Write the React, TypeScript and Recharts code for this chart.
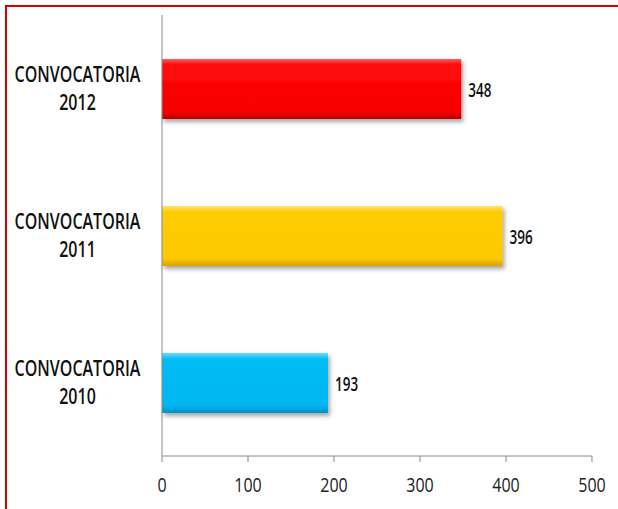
import { Bar, BarChart, Cell, LabelList, XAxis, YAxis } from "recharts";

const years = ["2012", "2011", "2010"];
const values = [348, 396, 193];
const xTicks = [0, 100, 200, 300, 400, 500];

const data = years.map((year, i) => ({ name: "CONVOCATORIA " + year, year, value: values[i] }));

const barFills = ["url(#gRed)", "url(#gYellow)", "url(#gBlue)"];
const font = "'Open Sans', sans-serif";

// the source picture is stretched vertically, so the text is scaled in y
function CategoryTick(props: any) {
  const { y, payload } = props;
  const year = payload.value.split(" ")[1];
  const lines = ["CONVOCATORIA", year];
  return (
    <g>
      {lines.map((t, i) => (
        <g key={i} transform={`translate(77.5,${y + (i === 0 ? -13.8 : 13.8)}) scale(1,1.3)`}>
          <text x={0} y={0} dy="0.36em" textAnchor="middle" fontFamily={font} fontWeight={600} fontSize={16} fill="#111">
            {t}
          </text>
        </g>
      ))}
    </g>
  );
}

function NumberTick(props: any) {
  const { x, payload } = props;
  return (
    <g transform={`translate(${x},484.5) scale(1,1.27)`}>
      <text x={0} y={0} dy="0.36em" textAnchor="middle" fontFamily={font} fontSize={16} fill="#222">
        {payload.value}
      </text>
    </g>
  );
}

function ValueLabel(props: any) {
  const { x, y, width, height, value } = props;
  return (
    <g transform={`translate(${x + width + 7},${y + height / 2 + 1.5}) scale(1,1.42)`}>
      <text x={0} y={0} dy="0.36em" textAnchor="start" fontFamily={font} fontWeight={600} fontSize={13.5} fill="#111">
        {value}
      </text>
    </g>
  );
}

export default function App() {
  return (
    <div style={{ position: "fixed", left: 0, top: 0, width: 618, height: 509, overflow: "hidden", background: "#fff" }}>
      <div
        style={{
          position: "absolute",
          left: 5,
          top: 5,
          width: 800,
          height: 800,
          border: "2px solid #d60000",
        }}
      />
      <div style={{ position: "absolute", left: 0, top: 0 }}>
        <BarChart
          width={618}
          height={509}
          data={data}
          layout="vertical"
          margin={{ top: 15, right: 26, bottom: 0, left: 0 }}
        >
          <defs>
            <linearGradient id="gRed" x1="0" y1="0" x2="0" y2="1">
              <stop offset="0%" stopColor="#ff5a5a" />
              <stop offset="10%" stopColor="#ff0a0a" />
              <stop offset="88%" stopColor="#f80000" />
              <stop offset="100%" stopColor="#b80000" />
            </linearGradient>
            <linearGradient id="gYellow" x1="0" y1="0" x2="0" y2="1">
              <stop offset="0%" stopColor="#ffe26a" />
              <stop offset="10%" stopColor="#ffcc05" />
              <stop offset="88%" stopColor="#fcc800" />
              <stop offset="100%" stopColor="#d9a200" />
            </linearGradient>
            <linearGradient id="gBlue" x1="0" y1="0" x2="0" y2="1">
              <stop offset="0%" stopColor="#6cd8ff" />
              <stop offset="10%" stopColor="#06bcf5" />
              <stop offset="88%" stopColor="#00b6f0" />
              <stop offset="100%" stopColor="#008fc4" />
            </linearGradient>
            <filter id="shadow" x="-5%" y="-20%" width="115%" height="150%">
              <feDropShadow dx="2" dy="3" stdDeviation="2" floodColor="#000" floodOpacity="0.35" />
            </filter>
          </defs>
          <XAxis
            type="number"
            domain={[0, 500]}
            ticks={xTicks}
            height={53}
            axisLine={{ stroke: "#8a8a8a" }}
            tickLine={{ stroke: "#8a8a8a" }}
            tickSize={6}
            tick={<NumberTick />}
          />
          <YAxis
            type="category"
            dataKey="name"
            width={162}
            axisLine={{ stroke: "#8a8a8a" }}
            tickLine={false}
            tick={<CategoryTick />}
          />
          <Bar dataKey="value" barSize={60} isAnimationActive={false} filter="url(#shadow)">
            {data.map((d, i) => (
              <Cell key={d.year} fill={barFills[i]} />
            ))}
            <LabelList dataKey="value" content={<ValueLabel />} />
          </Bar>
        </BarChart>
      </div>
    </div>
  );
}
